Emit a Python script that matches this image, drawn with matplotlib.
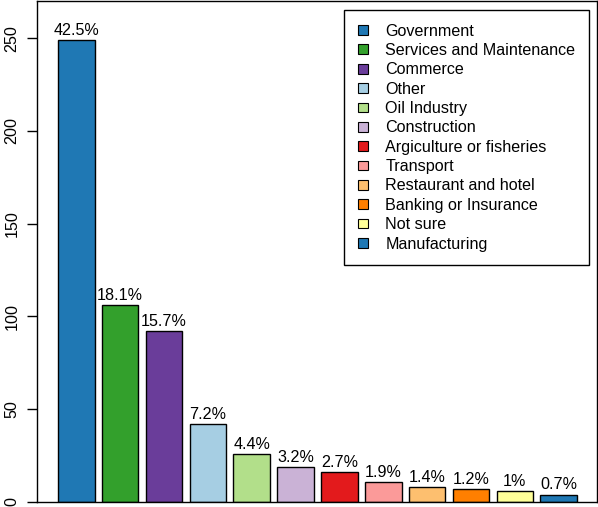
import numpy as np
import matplotlib
matplotlib.use("Agg")
import matplotlib.pyplot as plt
from matplotlib.patches import Patch

plt.rcParams['font.family'] = ['Liberation Sans', 'DejaVu Sans']

# sectors and counts
sectors = ["Government", "Services and Maintenance", "Commerce", "Other",
           "Oil Industry", "Construction", "Argiculture or fisheries",
           "Transport", "Restaurant and hotel", "Banking or Insurance",
           "Not sure", "Manufacturing"]
counts = [249, 106, 92, 42, 26, 19, 16, 11, 8, 7, 6, 4]
pct_labels = ["42.5%", "18.1%", "15.7%", "7.2%", "4.4%", "3.2%", "2.7%",
              "1.9%", "1.4%", "1.2%", "1%", "0.7%"]
colors = ["#1F78B4", "#33A02C", "#6A3D9A", "#A6CEE3", "#B2DF8A", "#CAB2D6",
          "#E31A1C", "#FB9A99", "#FDBF6F", "#FF7F00", "#FFFF99", "#1F78B4"]
yticks = [0, 50, 100, 150, 200, 250]

fs = 11.6
W, H = 598, 507
fig = plt.figure(figsize=(W / 100, H / 100), dpi=100)
ax = fig.add_axes([37 / W, (H - 502) / H, 560 / W, 501 / H])

x = 0.7 + 1.2 * np.arange(len(counts))
ax.bar(x, counts, width=1.0, color=colors, edgecolor="black", linewidth=1.0)

# percentage labels on top of bars
for xi, c, lab in zip(x, counts, pct_labels):
    ax.annotate(lab, (xi, c), xytext=(0, 1.5), textcoords="offset points",
                ha="center", va="bottom", fontsize=fs)

ax.set_xlim(-0.375, 14.947)
ax.set_ylim(0, 270)
ax.set_xticks([])
ax.set_yticks(yticks)
ax.set_yticklabels([str(t) for t in yticks], rotation=90, va="center", fontsize=fs)
ax.tick_params(axis="y", length=7.2, width=1.0, pad=5.5)
for s in ax.spines.values():
    s.set_linewidth(1.0)
    s.set_color("black")

handles = [Patch(facecolor=c, edgecolor="black", linewidth=0.8) for c in colors]
leg = ax.legend(handles, sectors, loc="upper right",
                bbox_to_anchor=((589 - 37) / 560, (502 - 10) / 501),
                borderaxespad=0, fontsize=fs, frameon=True, fancybox=False,
                framealpha=1, edgecolor="black", handlelength=0.6,
                handleheight=0.55, handletextpad=1.1, labelspacing=0.27,
                borderpad=0.85)
leg.get_frame().set_linewidth(1.0)

fig.savefig("out.png", dpi=100)
